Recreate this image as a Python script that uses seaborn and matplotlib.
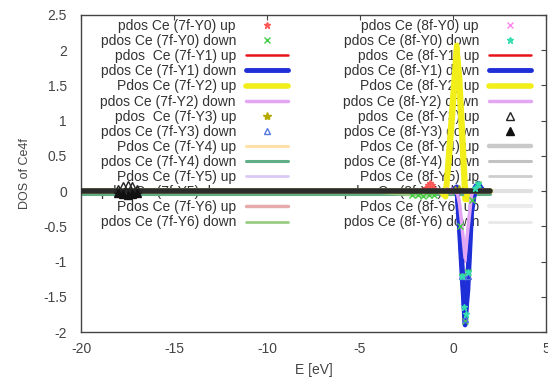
import matplotlib
matplotlib.use("Agg")
import matplotlib.pyplot as plt
import seaborn as sns

# ---------------- data ----------------
# common energy grid for the line series
E = [-20.0, -18.5, -18.0, -17.7, -17.5, -17.3, -17.0, -16.5, -15.0, -10.0,
     -5.0, -2.5, -2.0, -1.5, -1.25, -1.0, -0.7, -0.4, -0.2, 0.0,
     0.2, 0.35, 0.5, 0.65, 0.8, 1.0, 1.2, 1.35, 1.6, 2.0]

f7_y1_up = [0, 0, 0, 0, 0, 0, 0, 0, 0, 0,
            0, 0, 0.01, 0.04, 0.11, 0.04, 0.01, -0.05, 0.6, 1.3,
            2.0, 1.3, 0.6, -0.1, -0.04, 0, 0, 0, 0, 0]
f7_y1_down = [0, 0, 0, 0, 0, 0, 0, 0, 0, 0,
              0, 0, 0, 0, 0, 0, 0, 0, 0, 0.02,
              0.06, -0.55, -1.25, -1.9, -1.2, -0.1, 0.06, 0.11, 0.01, 0]
f7_y2_up = [0, 0, 0, 0, 0, 0, 0, 0, 0, 0,
            0, 0, 0, 0, 0, 0, 0, -0.08, 0.64, 1.36,
            2.07, 1.4, 0.65, -0.12, -0.05, 0, 0, 0, 0, 0]
f7_y2_down = [0, 0, 0, 0, 0, 0, 0, 0, 0, 0,
              0, 0, 0, 0, 0, 0, 0, 0, 0, 0,
              0.02, -0.2, -0.6, -1.0, -0.6, -0.05, 0.03, 0.05, 0, 0]
f7_y4_up = [0, 0, 0, 0, 0, 0, 0, 0, 0, 0,
            0, 0, 0, 0, 0, 0, 0, 0, 0, 0,
            0, 0, 0, 0, 0, 0, 0, 0, 0, 0]
f7_y4_down = [-0.04, -0.04, -0.04, -0.04, -0.04, -0.04, -0.04, -0.04, -0.04, -0.04,
              -0.04, -0.04, -0.04, -0.04, -0.04, -0.04, -0.04, -0.04, -0.04, -0.04,
              -0.04, -0.04, -0.04, -0.04, -0.04, -0.04, -0.04, -0.04, -0.04, -0.04]
f7_y5_up = [0, 0, 0, 0, 0, 0, 0, 0, 0, 0,
            0, 0, 0, 0, 0, 0, 0, 0, 0, 0,
            0, 0, 0, 0, 0, 0, 0, 0, 0, 0]
f7_y5_down = [0, 0, 0, 0, 0, 0, 0, 0, 0, 0,
              0, 0, 0, 0, 0, 0, 0, 0, 0, 0,
              0, 0, 0, 0, 0, 0, 0, 0, 0, 0]
f7_y6_up = [0, 0, 0, 0, 0, 0, 0, 0, 0, 0,
            0, 0, 0, 0, 0, 0, 0, 0, 0, 0,
            0, 0, 0, 0, 0, 0, 0, 0, 0, 0]
f7_y6_down = [0, 0, 0, 0, 0, 0, 0, 0, 0, 0,
              0, -0.05, -0.06, -0.06, -0.06, -0.05, 0, 0, 0, 0,
              0, 0, 0, 0, 0, 0, 0, 0, 0, 0]

f8_y1_up = [0, 0, 0, 0, 0, 0, 0, 0, 0, 0,
            0, 0, 0, 0.03, 0.09, 0.03, 0, -0.06, 0.45, 1.15,
            1.97, 1.6, 0.85, 0.1, -0.1, 0, 0, 0, 0, 0]
f8_y1_down = [0, 0, 0, 0, 0, 0, 0, 0, 0, 0,
              0, 0, 0, 0, 0, 0, 0, 0, 0, 0.01,
              0.04, -0.45, -1.1, -1.85, -1.4, -0.3, 0.04, 0.1, 0.01, 0]
f8_y2_up = [0, 0, 0, 0, 0, 0, 0, 0, 0, 0,
            0, 0, 0, 0, 0, 0, 0, -0.07, 0.47, 1.18,
            2.03, 1.62, 0.88, 0.08, -0.12, 0, 0, 0, 0, 0]
f8_y2_down = [0, 0, 0, 0, 0, 0, 0, 0, 0, 0,
              0, 0, 0, 0, 0, 0, 0, 0, 0, 0,
              0.02, -0.18, -0.55, -0.95, -0.55, -0.05, 0.03, 0.05, 0, 0]
f8_y4_up = [0, 0, 0, 0, 0, 0, 0, 0, 0, 0,
            0, 0, 0, 0, 0, 0, 0, 0, 0, 0,
            0, 0, 0, 0, 0, 0, 0, 0, 0, 0]
f8_y4_down = [0, 0, 0, 0, 0, 0, 0, 0, 0, 0,
              0, 0, 0, 0, 0, 0, 0, 0, 0, 0,
              0, 0, 0, 0, 0, 0, 0, 0, 0, 0]
f8_y5_up = [0, 0, 0, 0, 0, 0, 0, 0, 0, 0,
            0, 0, 0, 0, 0, 0, 0, 0, 0, 0,
            0, 0, 0, 0, 0, 0, 0, 0, 0, 0]
f8_y5_down = [0, 0, 0, 0, 0, 0, 0, 0, 0, 0,
              0, 0, 0, 0, 0, 0, 0, 0, 0, 0,
              0, 0, 0, 0, 0, 0, 0, 0, 0, 0]
f8_y6_up = [0, 0, 0, 0, 0, 0, 0, 0, 0, 0,
            0, 0, 0, 0, 0, 0, 0, 0, 0, 0,
            0, 0, 0, 0, 0, 0, 0, 0, 0, 0]
f8_y6_down = [0, 0, 0, 0, 0, 0, 0, 0, 0, 0,
              0, 0, 0, 0, 0, 0, 0, 0, 0, 0,
              0, 0, 0, 0, 0, 0, 0, 0, 0, 0]

# point (marker) series, each with its own energies
E_f7_y0_up = [-1.5, -1.35, -1.25, -1.15, -1.0]
f7_y0_up = [0.03, 0.08, 0.11, 0.08, 0.03]
E_f7_y0_down = [-2.2, -1.9, -1.6, -1.3, -1.0, 0.35, 0.5, 0.65, 0.8, 1.0, 1.35]
f7_y0_down = [-0.06, -0.06, -0.07, -0.06, -0.06, -0.5, -1.2, -1.85, -1.15, -0.12, 0.1]
E_f7_y3_up = [0.1, 0.3]
f7_y3_up = [0.02, 0.03]
E_f7_y3_down = [0.5, 0.65, 0.8]
f7_y3_down = [-1.2, -1.82, -1.2]
E_f8_y0_up = [-0.2, 0.0]
f8_y0_up = [0.01, 0.0]
E_f8_y0_down = [0.5, 0.6, 0.7, 0.8, 1.2, 1.35]
f8_y0_down = [-1.2, -1.65, -1.75, -1.15, 0.05, 0.1]
E_f8_y3 = [-18.0, -17.75, -17.5, -17.25, -17.0]
f8_y3_up = [0.03, 0.07, 0.09, 0.07, 0.03]
f8_y3_down = [-0.02, -0.04, -0.05, -0.04, -0.02]

labels_7f = ["pdos Ce (7f-Y0) up", "pdos Ce (7f-Y0) down",
             "pdos  Ce (7f-Y1) up", "pdos Ce (7f-Y1) down",
             "Pdos Ce (7f-Y2) up", "pdos Ce (7f-Y2) down",
             "pdos  Ce (7f-Y3) up", "pdos Ce (7f-Y3) down",
             "Pdos Ce (7f-Y4) up", "pdos Ce (7f-Y4) down",
             "Pdos Ce (7f-Y5) up", "pdos Ce (7f-Y5) down",
             "Pdos Ce (7f-Y6) up", "pdos Ce (7f-Y6) down"]
labels_8f = ["pdos Ce (8f-Y0) up", "pdos Ce (8f-Y0) down",
             "pdos  Ce (8f-Y1) up", "pdos Ce (8f-Y1) down",
             "Pdos Ce (8f-Y2) up", "pdos Ce (8f-Y2) down",
             "pdos  Ce (8f-Y3) up", "pdos Ce (8f-Y3) down",
             "Pdos Ce (8f-Y4) up", "pdos Ce (8f-Y4) down",
             "Pdos Ce (8f-Y5) up", "pdos Ce (8f-Y5) down",
             "Pdos Ce (8f-Y6) up", "pdos Ce (8f-Y6) down"]

xticks = [-20, -15, -10, -5, 0, 5]
yticks = [-2, -1.5, -1, -0.5, 0, 0.5, 1, 1.5, 2, 2.5]

# ---------------- styles ----------------
def L(color, lw, z=2):
    return dict(color=color, linewidth=lw, zorder=z)

def M(color, marker, ms, z=2.5, filled=True):
    return dict(color=color, linestyle="none", marker=marker, markersize=ms,
                markeredgecolor=color, markeredgewidth=1.0,
                markerfacecolor=color if filled else "none", zorder=z)

series_7f = [
    (E_f7_y0_up, f7_y0_up, M("#ff5a5a", "*", 5)),
    (E_f7_y0_down, f7_y0_down, M("#44cc44", "x", 5)),
    (E, f7_y1_up, L("#e8141a", 1.8, z=1.9)),
    (E, f7_y1_down, L("#1f2fd8", 3.5)),
    (E, f7_y2_up, L("#f2ee1a", 4.0)),
    (E, f7_y2_down, L("#e2a6f2", 2.5)),
    (E_f7_y3_up, f7_y3_up, M("#b5aa00", "*", 6)),
    (E_f7_y3_down, f7_y3_down, M("#5577e0", "^", 5, filled=False)),
    (E, f7_y4_up, L("#ffe0a8", 2.2)),
    (E, f7_y4_down, L("#5fae86", 2.2)),
    (E, f7_y5_up, L("#dcc8f6", 2.0)),
    (E, f7_y5_down, L("#2b2b2b", 4.0, z=3)),
    (E, f7_y6_up, L("#e6aaaa", 2.5)),
    (E, f7_y6_down, L("#9acc86", 2.0)),
]
series_8f = [
    (E_f8_y0_up, f8_y0_up, M("#ff88ee", "x", 4)),
    (E_f8_y0_down, f8_y0_down, M("#33ddb0", "*", 5, z=4)),
    (E, f8_y1_up, L("#e8141a", 1.8, z=1.9)),
    (E, f8_y1_down, L("#1f2fd8", 3.5)),
    (E, f8_y2_up, L("#f2ee1a", 4.0)),
    (E, f8_y2_down, L("#e2a6f2", 2.5)),
    (E_f8_y3, f8_y3_up, M("#222222", "^", 6, z=4, filled=False)),
    (E_f8_y3, f8_y3_down, M("#111111", "^", 6, z=4)),
    (E, f8_y4_up, L("#c9c9c9", 3.2)),
    (E, f8_y4_down, L("#c2c2c2", 2.2)),
    (E, f8_y5_up, L("#cdcdcd", 2.0)),
    (E, f8_y5_down, L("#e2e2e2", 3.0)),
    (E, f8_y6_up, L("#ebebeb", 3.0)),
    (E, f8_y6_down, L("#e8e8e8", 2.0)),
]

# ---------------- figure ----------------
sns.set_theme(style="white")
plt.rcParams['font.family'] = ['Liberation Sans', 'DejaVu Sans']
plt.rcParams['axes.unicode_minus'] = False

W, H = 548, 377
fig = plt.figure(figsize=(W / 100, H / 100), dpi=100)
ax = fig.add_axes([81 / W, 1 - 332 / H, (546 - 81) / W, (332 - 15) / H])

for lab, (xs, ys, st) in zip(labels_7f + labels_8f, series_7f + series_8f):
    sns.lineplot(x=xs, y=ys, ax=ax, label=lab, legend=False, **st)

ax.set_xlim(-20, 5)
ax.set_ylim(-2, 2.5)
ax.set_xticks(xticks)
ax.set_yticks(yticks)
ax.set_xticklabels([f"{v:g}" for v in xticks])
ax.set_yticklabels([f"{v:g}" for v in yticks])
ax.tick_params(axis="both", direction="in", length=3.5, width=0.8, color="#444444",
               labelsize=10, labelcolor="#444444", top=True, right=True)
ax.tick_params(axis="x", pad=7)
ax.tick_params(axis="y", pad=10)
for sp in ax.spines.values():
    sp.set_color("#444444")
    sp.set_linewidth(1.0)
ax.set_xlabel("E [eV]", fontsize=10, color="#444444", labelpad=5)
ax.set_ylabel("DOS of Ce4f", fontsize=9, color="#444444", labelpad=9)

handles, labs = ax.get_legend_handles_labels()
common = dict(frameon=False, markerfirst=False, fontsize=10, handlelength=3.0,
              handletextpad=0.75, labelspacing=0.08, borderpad=0, borderaxespad=0,
              loc="upper right", bbox_transform=fig.transFigure)
leg1 = ax.legend(handles[:14], labs[:14], bbox_to_anchor=(288 / W, 1 - 19 / H), **common)
for t in leg1.get_texts():
    t.set_color("#333333")
leg1.set_zorder(1)
ax.add_artist(leg1)
leg2 = ax.legend(handles[14:], labs[14:], bbox_to_anchor=(531 / W, 1 - 19 / H), **common)
for t in leg2.get_texts():
    t.set_color("#333333")
leg2.set_zorder(1)

fig.savefig("out.png", dpi=100)
